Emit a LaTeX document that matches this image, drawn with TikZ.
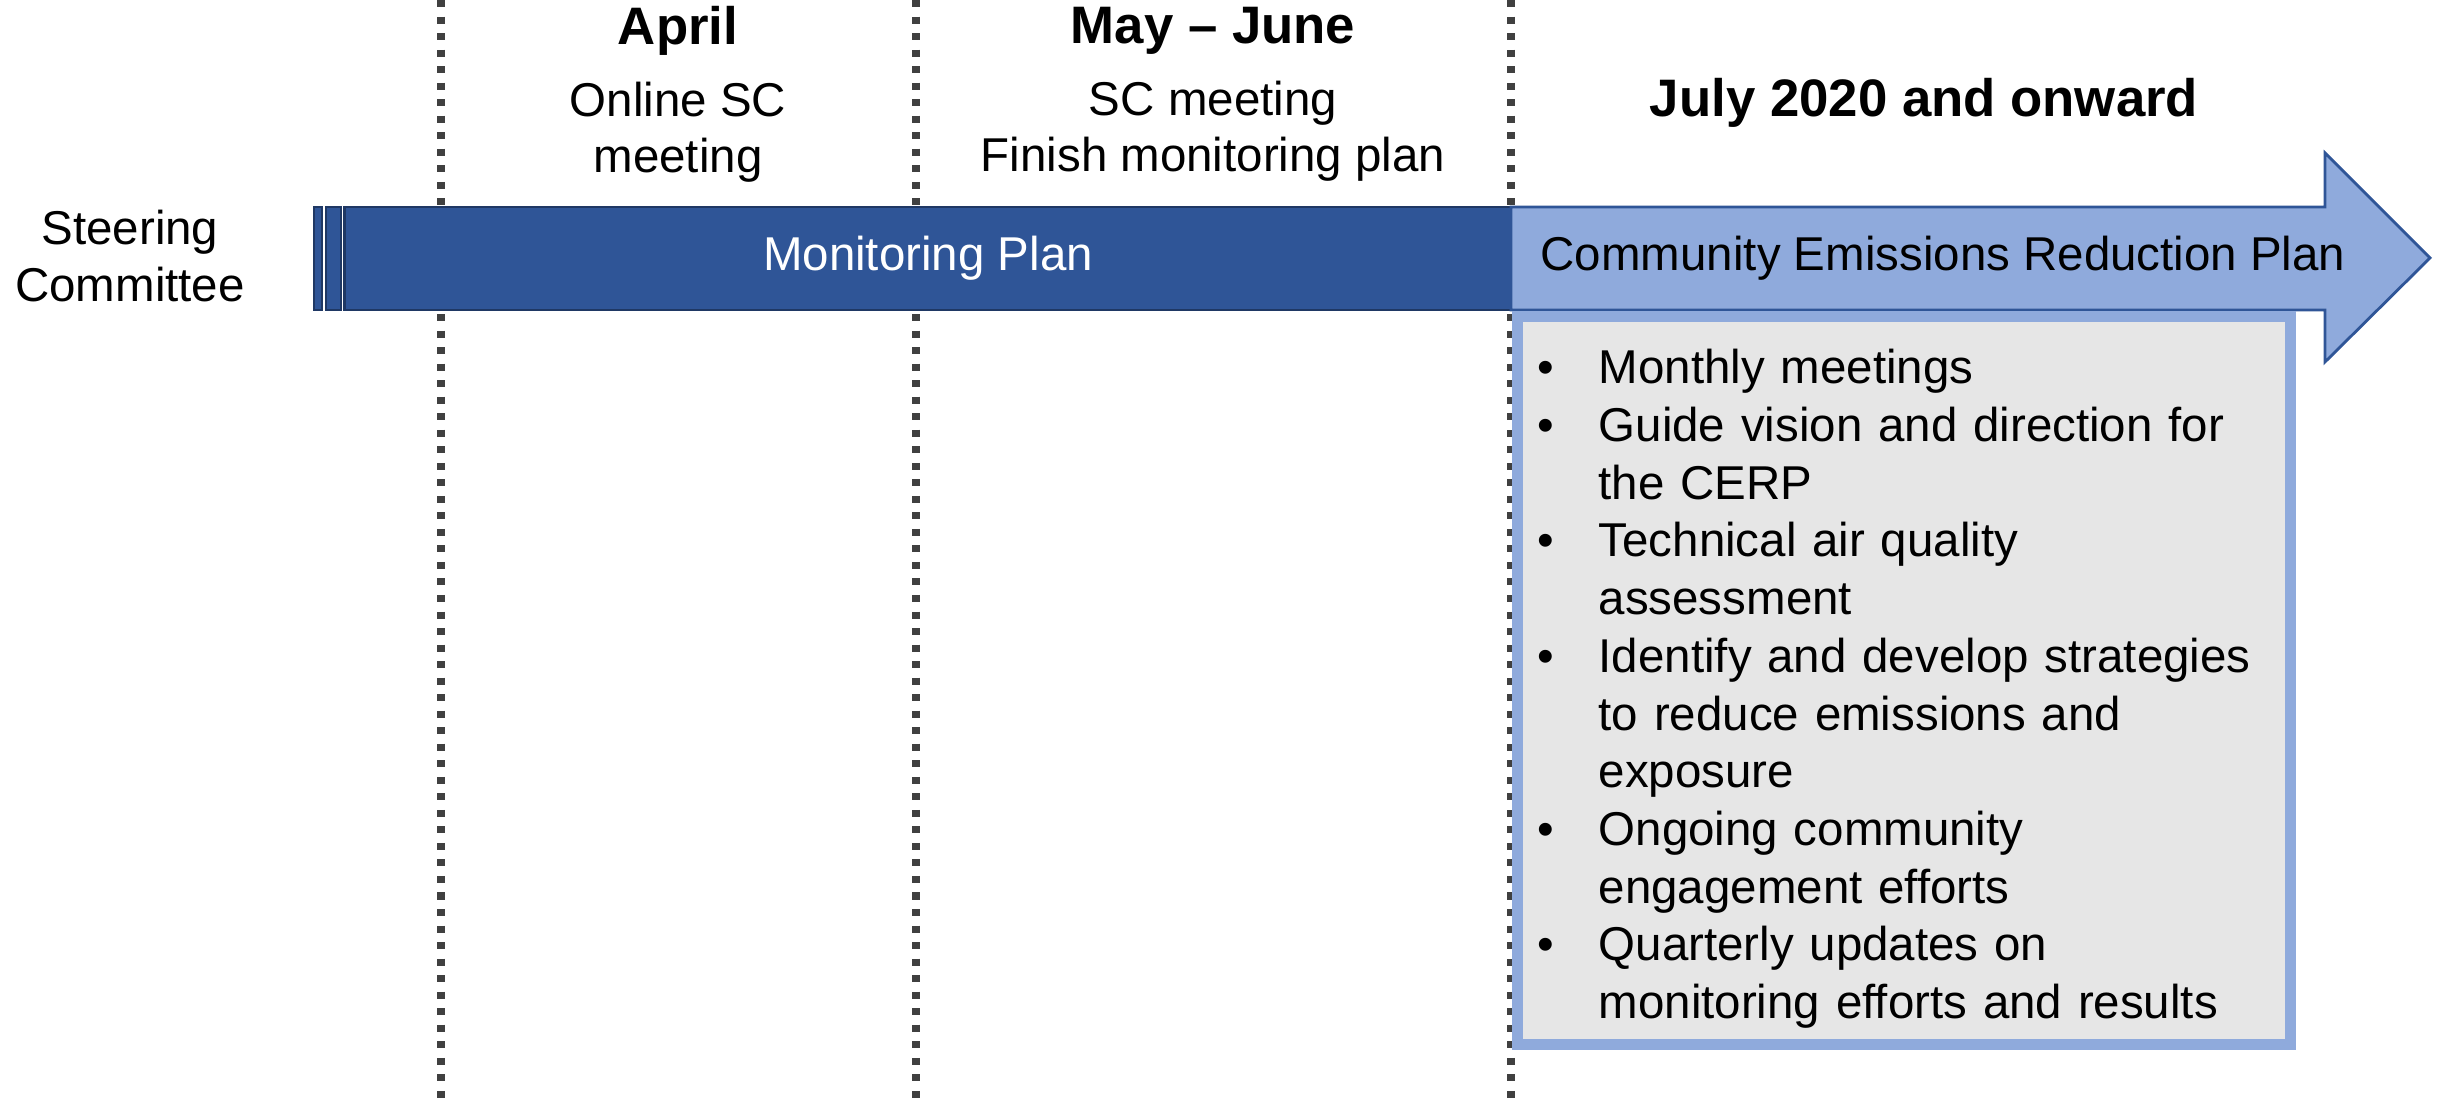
\documentclass[tikz,border=0pt]{standalone}
\usepackage{fontspec}
\setmainfont{Liberation Sans}
\usetikzlibrary{positioning}
\setlength{\parindent}{0pt}
\definecolor{planblue}{HTML}{2F5597}
\definecolor{planedge}{HTML}{1F3864}
\definecolor{cerpblue}{HTML}{8FAADC}
\definecolor{notegray}{HTML}{E6E6E6}
\definecolor{divgray}{HTML}{404040}
\newcommand{\tbul}{\leavevmode\llap{\textbullet\hspace{0.45cm}}}
\begin{document}
\begin{tikzpicture}[x=0.01cm, y=0.01cm,
    every node/.style={font=\fontsize{13.5}{16}\selectfont, align=center, inner sep=0pt},
    head/.style={font=\fontsize{15}{18}\selectfont\bfseries},
    divider/.style={divgray, line width=2pt, dash pattern=on 2pt off 2.7pt},
    stripe/.style={draw=planedge, fill=planblue, line width=0.8pt, minimum height=1.03cm}]
    \useasboundingbox (0,0) rectangle (2447,1104);

    % month dividers
    \foreach \x/\name in {441/da, 916/db, 1511/dc} {
        \coordinate (\name top) at (\x,1104);
        \coordinate (\name bot) at (\x,0);
        \draw[divider] (\name top) -- (\name bot);
    }

    \node (sc) at (130,848) {Steering\\Committee};

    % monitoring plan bar
    \node[stripe, minimum width=0.08cm] (s1) at (318,845.5) {};
    \node[stripe, minimum width=0.15cm] (s2) at (333.5,845.5) {};
    \node[stripe, minimum width=11.66cm, text=white] (mplan) at (928,845.5) {Monitoring Plan};

    % CERP arrow
    \draw[draw=planblue, fill=cerpblue, line width=0.8pt] (1511,897) -- (2325,897) -- (2325,951)
        -- (2430,846) -- (2325,742) -- (2325,794) -- (1511,794) -- cycle;
    \node[anchor=west] (cerp) at (1540,846) {Community Emissions Reduction Plan};

    % CERP tasks
    \node[draw=cerpblue, fill=notegray, line width=0.11cm, minimum width=7.73cm, minimum height=7.28cm] (tasks) at (1904,423.5) {};
    \node[anchor=base west, text width=7cm, align=left, font=\fontsize{13.5}{16.4}\selectfont] (tasklist) at (1598,720) {%
        \tbul Monthly meetings\\
        \tbul Guide vision and direction for\\ the CERP\\
        \tbul Technical air quality\\ assessment\\
        \tbul Identify and develop strategies\\ to reduce emissions and\\ exposure\\
        \tbul Ongoing community\\ engagement efforts\\
        \tbul Quarterly updates on\\ monitoring efforts and results};

    % months
    \node[head] (april) at (678,1073) {April};
    \node[below=0.25cm of april] (aprilnote) {Online SC\\meeting};
    \node[head] (mayjune) at (1213,1073) {May -- June};
    \node[below=0.25cm of mayjune] (mayjunenote) {SC meeting\\Finish monitoring plan};
    \node[head] (july) at (1924,1001) {July 2020 and onward};
\end{tikzpicture}
\end{document}
